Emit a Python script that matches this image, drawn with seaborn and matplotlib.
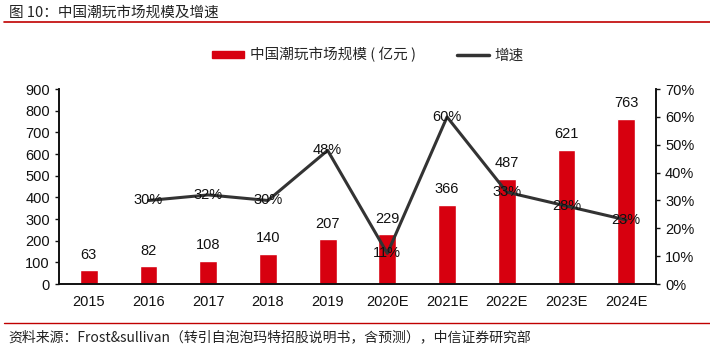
import matplotlib
matplotlib.use("Agg")
import matplotlib.pyplot as plt
import seaborn as sns
import pandas as pd
from matplotlib.lines import Line2D
from matplotlib.patches import Patch

# data
years = ["2015", "2016", "2017", "2018", "2019", "2020E", "2021E", "2022E", "2023E", "2024E"]
market_size = [63, 82, 108, 140, 207, 229, 366, 487, 621, 763]
growth = [None, 30, 32, 30, 48, 11, 60, 33, 28, 23]

sns.set_theme(style="white")
plt.rcParams["font.family"] = ["Liberation Sans", "Noto Sans CJK SC", "DejaVu Sans"]
plt.rcParams["font.size"] = 10

df = pd.DataFrame({"year": years, "size": market_size, "growth": growth})

fig = plt.figure(figsize=(7.1, 3.55), dpi=100)
ax = fig.add_axes([0.083, 0.2, 0.841, 0.549])

sns.barplot(data=df, x="year", y="size", color="#D7000F", width=0.3,
            saturation=1, ax=ax)
ax.set_ylim(0, 900)
ax.set_yticks(range(0, 901, 100))
ax.set_xlabel("")
ax.set_ylabel("")
for i, v in enumerate(market_size):
    ax.text(i, v + 40, str(v), ha="center", va="bottom", fontsize=10.5, color="#111111")

ax2 = ax.twinx()
g = df.dropna()
sns.lineplot(x=g.index, y=g["growth"], color="#333333", linewidth=2.2, ax=ax2)
ax2.set_ylim(0, 70)
ax2.set_yticks(range(0, 71, 10))
ax2.set_yticklabels([f"{t}%" for t in range(0, 71, 10)])
ax2.set_ylabel("")
for i, v in zip(g.index, g["growth"]):
    ax2.text(i, v, f"{int(v)}%", ha="center", va="center", fontsize=10.5, color="#111111")
ax.set_xlim(-0.5, 9.5)

for a in (ax, ax2):
    a.spines["top"].set_visible(False)
    for s in ("left", "right", "bottom"):
        a.spines[s].set_color("#111111")
        a.spines[s].set_linewidth(1.2)
    a.tick_params(labelsize=10.5, colors="#111111", length=3, width=1)
ax.tick_params(axis="y", left=True, right=False)
ax.tick_params(axis="x", bottom=False, pad=5)
ax2.tick_params(axis="y", right=True, left=False)

# legend
handles = [Patch(color="#D7000F"), Line2D([0], [0], color="#333333", lw=2.5)]
fig.legend(handles, ["中国潮玩市场规模 ( 亿元 )", "增速"], loc="center",
           bbox_to_anchor=(0.518, 0.845), ncol=2, frameon=False,
           handlelength=2.2, handleheight=0.35, handletextpad=0.4, columnspacing=2.8,
           prop={"family": ["Noto Sans CJK SC"], "size": 10.5})

# title and source
fig.text(0.012, 0.965, "图 10：中国潮玩市场规模及增速", fontsize=10.5, color="#222222",
         va="center", family=["Noto Sans CJK SC", "DejaVu Sans"])
fig.add_artist(Line2D([0.006, 1.0], [0.937, 0.937], color="#C00000", lw=1.2))
fig.add_artist(Line2D([0.006, 1.0], [0.09, 0.09], color="#C00000", lw=1.0))
fig.text(0.012, 0.05, "资料来源：Frost&sullivan（转引自泡泡玛特招股说明书，含预测），中信证券研究部",
         fontsize=10, color="#222222", va="center",
         family=["Noto Sans CJK SC", "DejaVu Sans"])

fig.savefig("out.png", dpi=100)
